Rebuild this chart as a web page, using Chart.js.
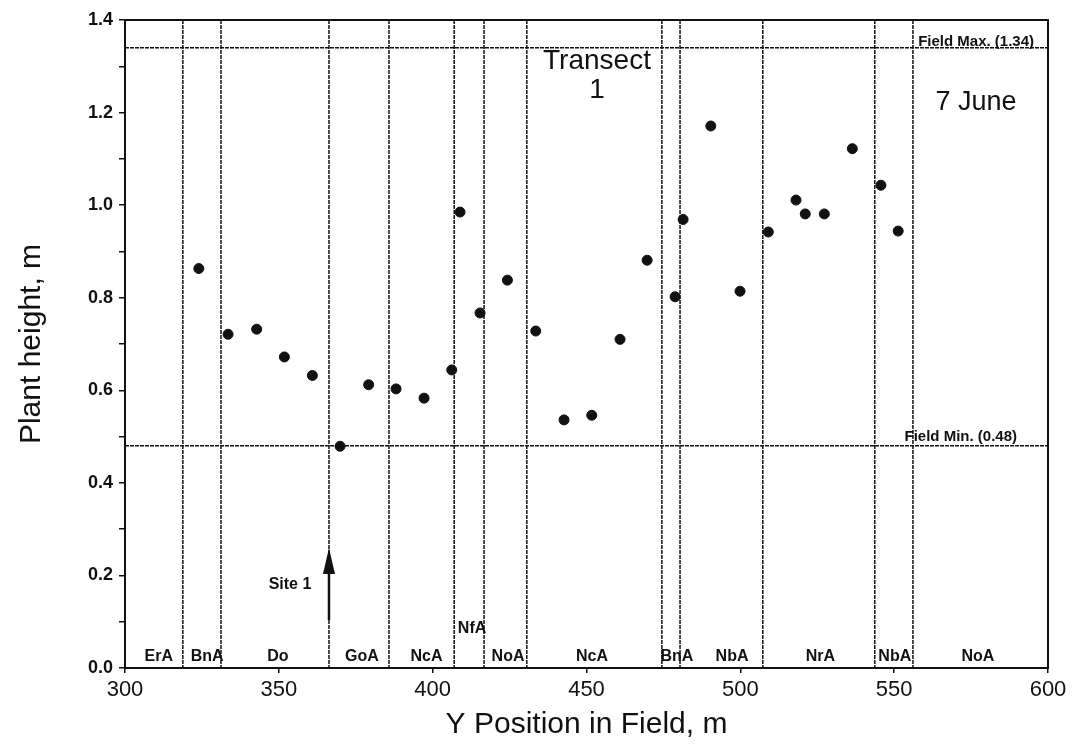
<!DOCTYPE html>
<html>
<head>
<meta charset="utf-8">
<script src="https://cdn.jsdelivr.net/npm/chart.js@4"></script>
<style>
  html, body { margin: 0; padding: 0; background: #fff; }
  #wrap { width: 1081px; height: 747px; }
</style>
</head>
<body>
<div id="wrap"><canvas id="plantChart" width="1081" height="747"></canvas></div>
<script>
// plant heights along transect 1, 7 June
const yPosition = [324.0, 333.5, 342.8, 351.8, 360.9, 369.9, 379.2, 388.1, 397.2, 406.2,
  408.9, 415.4, 424.3, 433.5, 442.7, 451.7, 460.9, 469.7, 478.8, 481.4,
  490.4, 499.9, 509.1, 518.1, 521.1, 527.3, 536.4, 545.7, 551.3];
const plantHeight = [0.863, 0.721, 0.732, 0.672, 0.632, 0.479, 0.612, 0.603, 0.583, 0.644,
  0.985, 0.767, 0.838, 0.728, 0.536, 0.546, 0.710, 0.881, 0.802, 0.969,
  1.171, 0.814, 0.942, 1.011, 0.981, 0.981, 1.122, 1.043, 0.944];

// soil map unit boundaries and names
const soilBounds = [318.8, 331.2, 366.3, 385.8, 407.0, 416.7, 430.6, 474.5, 480.4, 507.3, 543.7, 556.1];
const soilNames = ["ErA", "BnA", "Do", "GoA", "NcA", "NfA", "NoA", "NcA", "BnA", "NbA", "NrA", "NbA", "NoA"];
const soilLabelX = [311, 326.7, 349.7, 377, 398, 412.8, 424.5, 451.8, 479.4, 497.3, 526, 550.2, 577.2];
const soilLabelY = [0.024, 0.024, 0.024, 0.024, 0.024, 0.086, 0.024, 0.024, 0.024, 0.024, 0.024, 0.024, 0.024];

const fieldMax = 1.34;
const fieldMin = 0.48;
const siteX = 366.3;

const xTicks = [300, 350, 400, 450, 500, 550, 600];

const black = "#111";

const overlay = {
  id: "overlay",
  beforeDatasetsDraw(chart) {
    const ctx = chart.ctx;
    const xs = chart.scales.x, ys = chart.scales.y;
    const a = chart.chartArea;
    ctx.save();
    ctx.strokeStyle = black;
    ctx.lineWidth = 1.5;
    ctx.setLineDash([4, 1]);
    soilBounds.forEach(b => {
      const px = xs.getPixelForValue(b);
      ctx.beginPath();
      ctx.moveTo(px, a.top);
      ctx.lineTo(px, a.bottom);
      ctx.stroke();
    });
    [fieldMax, fieldMin].forEach(v => {
      const py = ys.getPixelForValue(v);
      ctx.beginPath();
      ctx.moveTo(a.left, py);
      ctx.lineTo(a.right, py);
      ctx.stroke();
    });
    ctx.setLineDash([]);
    ctx.lineWidth = 2;
    ctx.strokeRect(a.left, a.top, a.right - a.left, a.bottom - a.top);

    ctx.fillStyle = black;
    ctx.font = "bold 16px 'Liberation Sans', Arial, sans-serif";
    ctx.textAlign = "center";
    ctx.textBaseline = "middle";
    soilNames.forEach((n, i) => {
      ctx.fillText(n, xs.getPixelForValue(soilLabelX[i]), ys.getPixelForValue(soilLabelY[i]));
    });

    ctx.font = "bold 15px 'Liberation Sans', Arial, sans-serif";
    ctx.textAlign = "right";
    ctx.textBaseline = "bottom";
    ctx.fillText("Field Max. (1.34)", a.right - 14, ys.getPixelForValue(fieldMax) + 2);
    ctx.fillText("Field Min. (0.48)", a.right - 31, ys.getPixelForValue(fieldMin) - 1);

    ctx.textAlign = "center";
    ctx.textBaseline = "middle";
    ctx.font = "28px 'Liberation Sans', Arial, sans-serif";
    ctx.fillText("Transect", 597, 61);
    ctx.fillText("1", 597, 90);
    ctx.font = "27px 'Liberation Sans', Arial, sans-serif";
    ctx.fillText("7 June", 976, 103);

    ctx.font = "bold 16px 'Liberation Sans', Arial, sans-serif";
    ctx.fillText("Site 1", 290, 585);

    // arrow marking site 1
    const ax = xs.getPixelForValue(siteX);
    ctx.lineWidth = 2.5;
    ctx.beginPath();
    ctx.moveTo(ax, 620);
    ctx.lineTo(ax, 568);
    ctx.stroke();
    ctx.beginPath();
    ctx.moveTo(ax, 548);
    ctx.lineTo(ax - 6, 574);
    ctx.lineTo(ax + 6, 574);
    ctx.closePath();
    ctx.fill();
    ctx.restore();
  }
};

new Chart(document.getElementById("plantChart"), {
  type: "scatter",
  data: {
    datasets: [{
      data: yPosition.map((x, i) => ({ x: x, y: plantHeight[i] })),
      backgroundColor: black,
      borderColor: black,
      pointRadius: 5,
      pointHoverRadius: 5,
    }],
  },
  options: {
    responsive: false,
    animation: false,
    layout: { padding: { top: 20, right: 33, left: 0, bottom: 0 } },
    plugins: { legend: { display: false }, tooltip: { enabled: false } },
    scales: {
      x: {
        type: "linear",
        min: 300,
        max: 600,
        afterBuildTicks: s => { s.ticks = xTicks.map(v => ({ value: v })); },
        afterFit: s => { s.height = 79; },
        grid: { drawOnChartArea: false, tickLength: 5, color: black, lineWidth: 1.5 },
        border: { color: black, width: 2 },
        ticks: {
          color: black,
          padding: 4,
          maxRotation: 0,
          font: { family: "'Liberation Sans', Arial, sans-serif", size: 22 },
        },
        title: {
          display: true,
          text: "Y Position in Field, m",
          color: black,
          padding: { top: 0, bottom: 4 },
          font: { family: "'Liberation Sans', Arial, sans-serif", size: 30 },
        },
      },
      y: {
        min: 0,
        max: 1.4,
        afterFit: s => { s.width = 125; },
        grid: { drawOnChartArea: false, tickLength: 6, color: black, lineWidth: 1.5 },
        border: { color: black, width: 2 },
        ticks: {
          stepSize: 0.1,
          color: black,
          padding: 6,
          autoSkip: false,
          callback: v => (Math.round(v * 10) % 2 === 0 ? v.toFixed(1) : ""),
          font: { family: "'Liberation Sans', Arial, sans-serif", size: 18, weight: "bold" },
        },
        title: {
          display: true,
          text: "Plant height, m",
          color: black,
          padding: { top: 14, bottom: 0 },
          font: { family: "'Liberation Sans', Arial, sans-serif", size: 30 },
        },
      },
    },
  },
  plugins: [overlay],
});
</script>
</body>
</html>
